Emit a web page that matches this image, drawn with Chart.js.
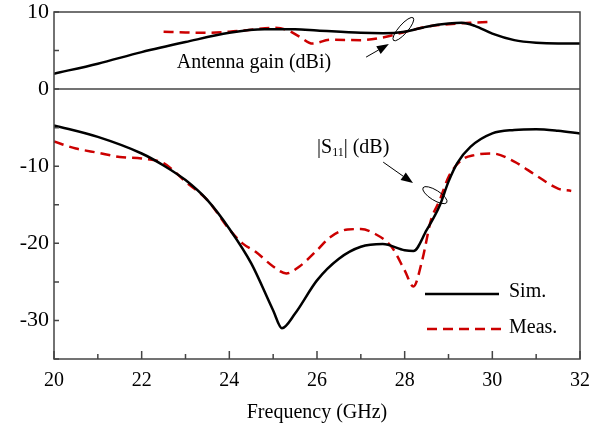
<!DOCTYPE html>
<html>
<head>
<meta charset="utf-8">
<script src="https://cdn.jsdelivr.net/npm/chart.js@4.4.1/dist/chart.umd.min.js"></script>
<style>
  html, body { margin: 0; padding: 0; background: #fff; }
  #wrap { width: 605px; height: 429px; position: relative; }
</style>
</head>
<body>
<div id="wrap"><canvas id="chart"></canvas></div>
<script>
const serif = '"Liberation Serif", "Times New Roman", serif';

// Antenna gain (dBi)
const gainSimFreq = [20, 21, 22, 23, 24, 24.8, 25.5, 26, 27, 27.5, 28, 28.5, 29, 29.3, 29.6, 30, 30.5, 31, 31.5, 32];
const gainSim = [2.0, 3.3, 4.8, 6.1, 7.3, 7.75, 7.75, 7.6, 7.3, 7.25, 7.45, 8.1, 8.5, 8.6, 8.2, 7.2, 6.35, 6.0, 5.9, 5.9];
const gainMeasFreq = [22.5, 23, 23.5, 24, 24.5, 25, 25.3, 25.6, 25.9, 26.3, 27, 27.5, 28, 28.5, 29, 29.5, 29.9];
const gainMeas = [7.45, 7.35, 7.3, 7.45, 7.7, 7.95, 7.7, 6.8, 5.9, 6.4, 6.35, 6.7, 7.4, 8.1, 8.4, 8.6, 8.7];

// |S11| (dB)
const s11SimFreq = [20, 21, 22, 22.5, 23, 23.5, 24, 24.5, 25, 25.2, 25.5, 26, 26.5, 27, 27.5, 28, 28.2, 28.5, 28.8, 29, 29.2, 29.5, 30, 30.5, 31, 31.5, 32];
const s11Sim = [-4.7, -6.2, -8.35, -9.9, -11.8, -14.4, -18.1, -22.6, -28.7, -31.0, -29.1, -24.8, -22.0, -20.45, -20.1, -20.9, -21.0, -18.3, -15.1, -12.0, -9.6, -7.5, -5.75, -5.3, -5.2, -5.4, -5.75];
const s11MeasFreq = [20, 20.5, 21, 21.5, 22, 22.5, 23, 23.5, 24, 24.3, 24.6, 25, 25.3, 25.6, 26, 26.3, 26.7, 27, 27.3, 27.7, 28, 28.2, 28.4, 28.6, 28.8, 29, 29.3, 29.6, 30, 30.5, 31, 31.5, 31.8];
const s11Meas = [-6.8, -7.7, -8.25, -8.8, -9.0, -9.6, -12.0, -14.4, -18.2, -20.0, -21.1, -23.0, -23.9, -23.0, -20.9, -19.2, -18.2, -18.15, -18.7, -20.45, -23.5, -25.6, -22.2, -17.0, -14.4, -11.4, -9.2, -8.55, -8.35, -9.4, -11.2, -12.9, -13.2];

const xTickLabels = [20, 22, 24, 26, 28, 30, 32];
const yTickLabels = [-30, -20, -10, 0, 10];

const simColor = '#000000';
const measColor = '#cc0000';

function pts(xs, ys) {
    return xs.map((x, i) => ({ x: x, y: ys[i] }));
}

function simSet(xs, ys) {
    return {
        data: pts(xs, ys), borderColor: simColor, borderWidth: 2.5,
        pointRadius: 0, cubicInterpolationMode: 'monotone', fill: false
    };
}

function measSet(xs, ys) {
    return {
        data: pts(xs, ys), borderColor: measColor, borderWidth: 2.5, borderDash: [10, 6],
        pointRadius: 0, cubicInterpolationMode: 'monotone', fill: false
    };
}

function arrow(ctx, x1, y1, x2, y2) {
    const a = Math.atan2(y2 - y1, x2 - x1);
    const len = 12, half = 4.5;
    const bx = x2 - len * Math.cos(a), by = y2 - len * Math.sin(a);
    ctx.beginPath();
    ctx.moveTo(x1, y1);
    ctx.lineTo(bx, by);
    ctx.stroke();
    ctx.beginPath();
    ctx.moveTo(x2, y2);
    ctx.lineTo(bx + half * Math.sin(a), by - half * Math.cos(a));
    ctx.lineTo(bx - half * Math.sin(a), by + half * Math.cos(a));
    ctx.closePath();
    ctx.fill();
}

// frame, inward ticks, zero line, legend and callouts
const decorations = {
    id: 'decorations',
    afterDatasetsDraw(chart) {
        const { ctx, chartArea: ca, scales: { x, y } } = chart;
        ctx.save();
        ctx.strokeStyle = '#444';
        ctx.lineWidth = 1.5;
        ctx.strokeRect(ca.left, ca.top, ca.right - ca.left, ca.bottom - ca.top);

        ctx.beginPath();
        ctx.moveTo(ca.left, y.getPixelForValue(0));
        ctx.lineTo(ca.right, y.getPixelForValue(0));
        ctx.stroke();

        ctx.beginPath();
        for (let f = 20; f <= 32; f++) {
            const px = x.getPixelForValue(f);
            const len = f % 2 === 0 ? 8 : 5;
            ctx.moveTo(px, ca.bottom);
            ctx.lineTo(px, ca.bottom - len);
        }
        for (let v = -35; v <= 10; v += 5) {
            const py = y.getPixelForValue(v);
            ctx.moveTo(ca.left, py);
            ctx.lineTo(ca.left + 5, py);
        }
        ctx.stroke();

        // legend
        const lx = ca.right - 155;
        ctx.lineWidth = 2.5;
        ctx.strokeStyle = simColor;
        ctx.beginPath();
        ctx.moveTo(lx, 294);
        ctx.lineTo(lx + 74, 294);
        ctx.stroke();
        ctx.strokeStyle = measColor;
        ctx.setLineDash([10, 6]);
        ctx.beginPath();
        ctx.moveTo(lx + 2, 329);
        ctx.lineTo(lx + 78, 329);
        ctx.stroke();
        ctx.setLineDash([]);
        ctx.fillStyle = '#000';
        ctx.font = '20px ' + serif;
        ctx.textBaseline = 'middle';
        ctx.fillText('Sim.', lx + 84, 292);
        ctx.fillText('Meas.', lx + 84, 328);

        // callouts
        ctx.strokeStyle = '#000';
        ctx.lineWidth = 1;
        ctx.beginPath();
        ctx.ellipse(x.getPixelForValue(27.97), y.getPixelForValue(7.78), 15, 4.5, -49 * Math.PI / 180, 0, 2 * Math.PI);
        ctx.stroke();
        ctx.beginPath();
        ctx.ellipse(x.getPixelForValue(28.69), y.getPixelForValue(-13.75), 14, 5, 32 * Math.PI / 180, 0, 2 * Math.PI);
        ctx.stroke();
        arrow(ctx, x.getPixelForValue(27.12), y.getPixelForValue(4.15), x.getPixelForValue(27.64), y.getPixelForValue(5.84));
        arrow(ctx, x.getPixelForValue(27.51), y.getPixelForValue(-9.47), x.getPixelForValue(28.19), y.getPixelForValue(-12.19));

        ctx.fillText('Antenna gain (dBi)', x.getPixelForValue(22.8), y.getPixelForValue(3.4));

        let tx = x.getPixelForValue(26.0);
        const ty = y.getPixelForValue(-7.6);
        ctx.fillText('|S', tx, ty);
        tx += ctx.measureText('|S').width;
        ctx.font = '12px ' + serif;
        ctx.fillText('11', tx, ty + 5);
        tx += ctx.measureText('11').width;
        ctx.font = '20px ' + serif;
        ctx.fillText('| (dB)', tx, ty);
        ctx.restore();
    }
};

new Chart(document.getElementById('chart'), {
    type: 'line',
    data: {
        datasets: [
            simSet(gainSimFreq, gainSim),
            measSet(gainMeasFreq, gainMeas),
            simSet(s11SimFreq, s11Sim),
            measSet(s11MeasFreq, s11Meas)
        ]
    },
    options: {
        responsive: true,
        maintainAspectRatio: false,
        animation: false,
        layout: { padding: { top: 0, right: 25, left: 0, bottom: 0 } },
        plugins: { legend: { display: false }, tooltip: { enabled: false } },
        scales: {
            x: {
                type: 'linear', min: 20, max: 32,
                afterBuildTicks: s => { s.ticks = xTickLabels.map(v => ({ value: v })); },
                afterFit: s => { s.height = 70; },
                grid: { display: false, drawTicks: false },
                border: { display: false },
                ticks: { color: '#000', font: { family: serif, size: 20 }, padding: 10, maxRotation: 0 },
                title: { display: true, text: 'Frequency (GHz)', color: '#000', font: { family: serif, size: 20 }, padding: { top: 4 } }
            },
            y: {
                type: 'linear', min: -35, max: 10,
                afterBuildTicks: s => { s.ticks = yTickLabels.map(v => ({ value: v })); },
                afterFit: s => { s.width = 54; s.paddingTop = 12; s.paddingBottom = 0; },
                grid: { display: false, drawTicks: false },
                border: { display: false },
                ticks: { color: '#000', font: { family: serif, size: 22 }, padding: 5 }
            }
        }
    },
    plugins: [decorations]
});
</script>
</body>
</html>
